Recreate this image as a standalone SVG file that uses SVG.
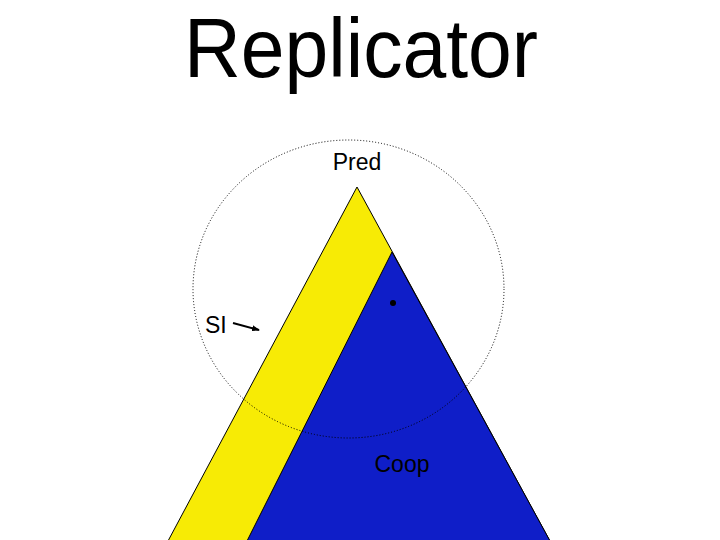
<svg xmlns="http://www.w3.org/2000/svg" width="720" height="540" viewBox="0 0 720 540">
<style>
.lbl{font-family:"Liberation Sans",Arial,sans-serif;font-size:23px;fill:#000}
</style>
<defs>
<marker id="ah" markerWidth="8" markerHeight="6" refX="7" refY="3" orient="auto" markerUnits="userSpaceOnUse">
<path d="M0,0 L8,3 L0,6 z" fill="#000"/>
</marker>
</defs>
<rect width="720" height="540" fill="#fff"/>
<text x="361" y="77" text-anchor="middle" font-family="Liberation Sans,Arial,sans-serif" font-size="84" textLength="354" lengthAdjust="spacingAndGlyphs">Replicator</text>
<g id="simplex">
<polygon points="357,187 168,541 550,541" fill="#f7eb05" stroke="#000" stroke-width="1"/>
<polygon points="392,252 550,541 247,541" fill="#0f1ec8" stroke="#000" stroke-width="1"/>
</g>
<g id="basin">
<ellipse cx="348.5" cy="289" rx="155.5" ry="149" fill="none" stroke="#000" stroke-width="1" stroke-dasharray="1,2"/>
</g>
<g id="equilibrium">
<circle cx="393" cy="303" r="3" fill="#000"/>
</g>
<g id="labels">
<text class="lbl" x="357" y="170" text-anchor="middle">Pred</text>
<text class="lbl" x="402" y="472" text-anchor="middle">Coop</text>
<text class="lbl" x="205" y="333">SI</text>
</g>
<g id="connectors">
<line x1="233" y1="323" x2="259" y2="330" stroke="#000" stroke-width="2" marker-end="url(#ah)"/>
</g>
</svg>
